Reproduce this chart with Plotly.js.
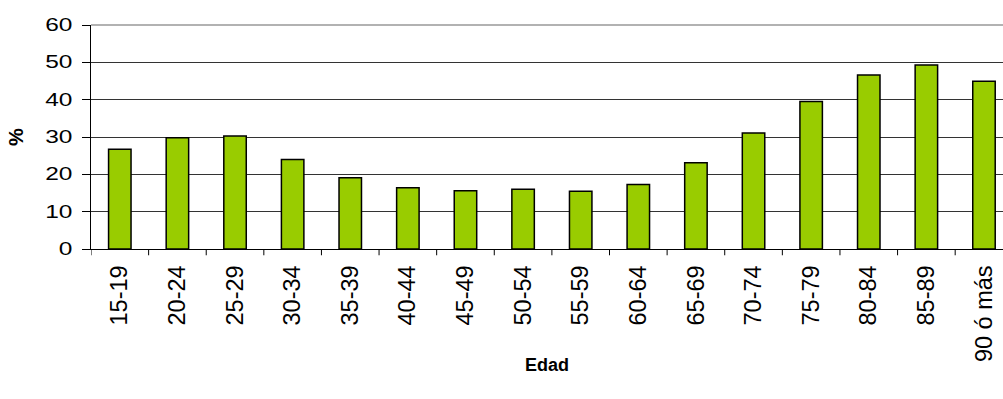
<!DOCTYPE html>
<html>
<head>
<meta charset="utf-8">
<script src="https://cdn.plot.ly/plotly-3.0.1.min.js"></script>
<style>
  html, body { margin: 0; padding: 0; background: #fff; }
  #chart { width: 1003px; height: 399px; }
</style>
</head>
<body>
<div id="chart"></div>
<script>
// Grupos de edad
const ageGroups = ['15-19', '20-24', '25-29', '30-34', '35-39', '40-44', '45-49', '50-54',
                   '55-59', '60-64', '65-69', '70-74', '75-79', '80-84', '85-89', '90 ó más'];
// Porcentaje por grupo de edad
const percent = [26.7, 29.8, 30.3, 24.0, 19.1, 16.4, 15.6, 16.0,
                 15.5, 17.3, 23.1, 31.1, 39.5, 46.6, 49.3, 44.9];
const yTicks = [0, 10, 20, 30, 40, 50, 60];

const font = 'Liberation Sans, Arial, sans-serif';

const trace = {
  type: 'bar',
  x: ageGroups.map((_, i) => i),
  y: percent,
  width: 0.39,
  marker: { color: '#99CC00', line: { color: '#000', width: 1.5 } },
  hoverinfo: 'x+y'
};

const layout = {
  width: 1003,
  height: 399,
  margin: { l: 91, r: 0, t: 25, b: 150 },
  paper_bgcolor: '#fff',
  plot_bgcolor: '#fff',
  showlegend: false,
  font: { family: font, size: 17, color: '#000' },
  xaxis: {
    range: [-0.5, 15.33],
    tickmode: 'array',
    tickvals: ageGroups.map((_, i) => i),
    ticktext: ageGroups,
    tickangle: -90,
    tickfont: { family: font, size: 23.5, color: '#000' },
    showgrid: false,
    zeroline: false,
    showline: true,
    linecolor: '#000',
    linewidth: 1,
    ticks: '',
    ticklabelstandoff: 6
  },
  yaxis: {
    range: [0, 60],
    tickmode: 'array',
    tickvals: yTicks,
    tickfont: { family: font, size: 17.5, color: '#000' },
    showgrid: true,
    gridcolor: '#333',
    gridwidth: 1,
    zeroline: false,
    showline: true,
    linecolor: '#000',
    linewidth: 1,
    ticks: 'outside',
    ticklen: 8,
    tickcolor: '#000',
    ticklabelstandoff: 6,
    title: { text: '%', font: { family: font, size: 20, weight: 'bold' }, standoff: 24 }
  },
  annotations: [
    { text: 'Edad', xref: 'paper', yref: 'paper', x: 0.5, y: -0.518,
      xanchor: 'center', yanchor: 'middle', showarrow: false,
      font: { family: font, size: 18, weight: 'bold', color: '#000' } }
  ],
  shapes: [
    // category separators along the x axis
    ...ageGroups.slice(0, -1).map((_, i) => ({
      type: 'line', xref: 'x', yref: 'paper',
      x0: i + 0.5, x1: i + 0.5, y0: 0, y1: -0.028,
      line: { color: '#000', width: 1 }
    })),
    { type: 'line', xref: 'x', yref: 'paper', x0: -0.5, x1: -0.5, y0: 0, y1: -0.028,
      line: { color: '#000', width: 1 } },
    // top border of the plot area
    { type: 'line', xref: 'paper', yref: 'paper', x0: 0, x1: 1, y0: 1, y1: 1,
      line: { color: '#999', width: 1.5 } }
  ]
};

Plotly.newPlot('chart', [trace], layout, { displayModeBar: false, staticPlot: true }).then(gd => {
  // widen the y tick labels, keeping their right edge in place
  gd.querySelectorAll('.ytick text').forEach(t => {
    const b = t.getBBox();
    const xr = b.x + b.width;
    const tr = t.getAttribute('transform') || '';
    t.setAttribute('transform', tr + ` translate(${xr},0) scale(1.4,1) translate(${-xr},0)`);
  });
});
</script>
</body>
</html>
